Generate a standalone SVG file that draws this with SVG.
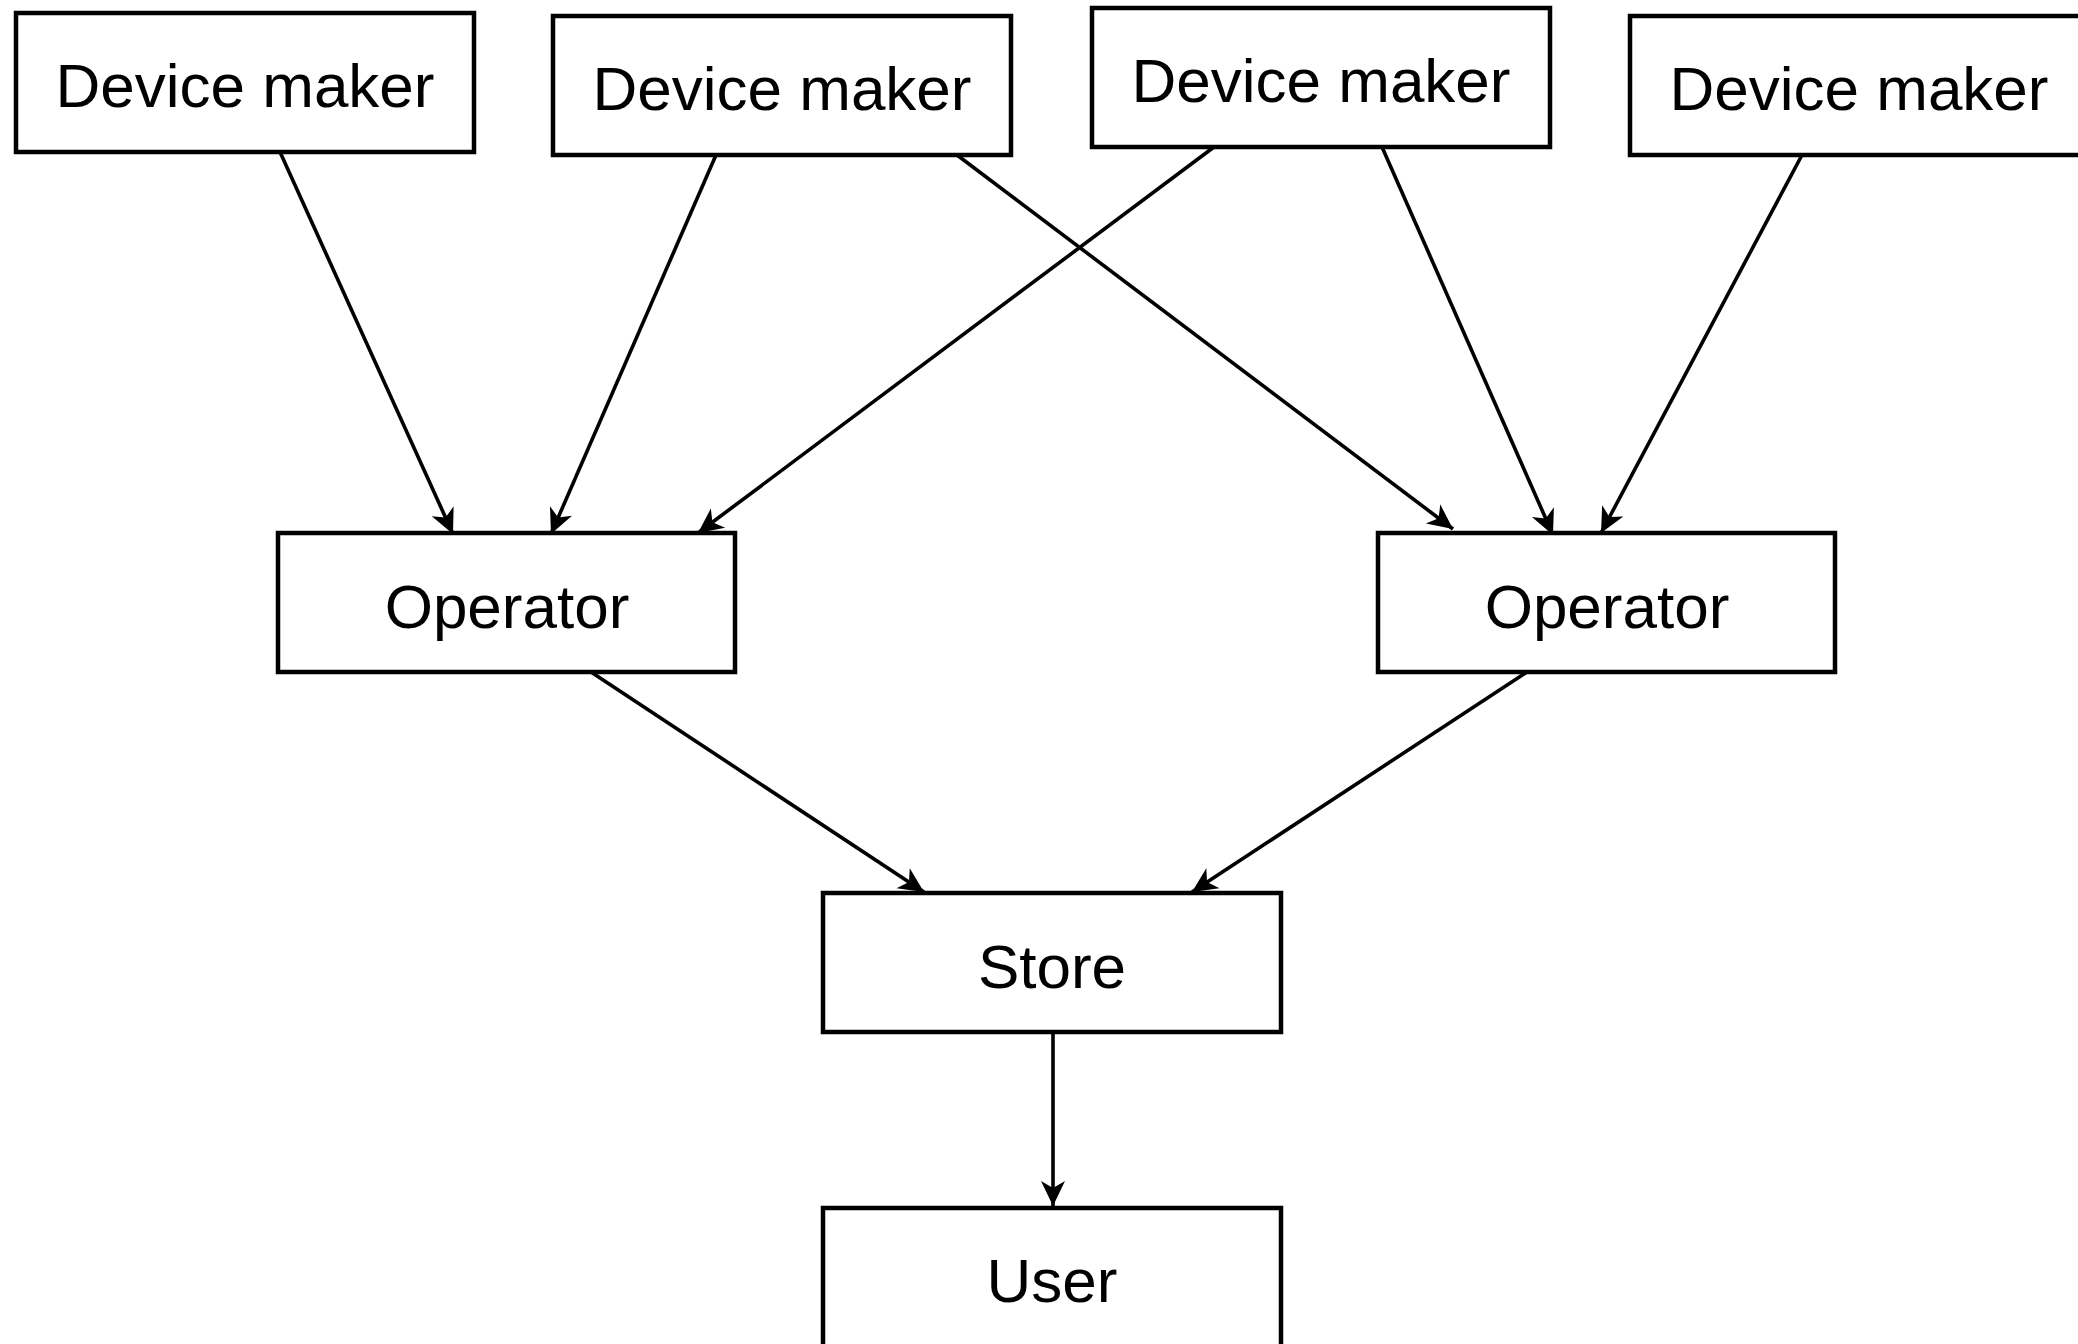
<svg xmlns="http://www.w3.org/2000/svg" width="2078" height="1344" viewBox="0 0 2078 1344">
<style>
.box{fill:#fff;stroke:#000;stroke-width:4.5}
.lbl{font-family:"Liberation Sans",Arial,sans-serif;font-size:62px;fill:#000;text-anchor:middle}
.edge{stroke:#000;stroke-width:3.6;fill:none;marker-end:url(#arr)}
</style>
<defs>
<marker id="arr" markerUnits="userSpaceOnUse" viewBox="-28 -14 30 28" refX="0" refY="0" markerWidth="30" markerHeight="28" orient="auto">
<path d="M0,0 L-25,-12 L-18,0 L-25,12 Z" fill="#000"/>
</marker>
</defs>
<rect width="2078" height="1344" fill="#fff"/>
<g id="connectors">
<line class="edge" x1="280" y1="152" x2="453" y2="534"/>
<line class="edge" x1="716" y1="155" x2="551" y2="534"/>
<line class="edge" x1="1214" y1="147" x2="698" y2="533"/>
<line class="edge" x1="957" y1="155" x2="1453" y2="529"/>
<line class="edge" x1="1382" y1="147" x2="1553" y2="535"/>
<line class="edge" x1="1802" y1="155" x2="1601" y2="533"/>
<line class="edge" x1="591" y1="672" x2="924" y2="892"/>
<line class="edge" x1="1527" y1="672" x2="1192" y2="892"/>
<line class="edge" x1="1053" y1="1032" x2="1053" y2="1206"/>
</g>
<g id="dm1"><rect class="box" x="16" y="13" width="458" height="139"/><text class="lbl" x="245" y="107">Device maker</text></g>
<g id="dm2"><rect class="box" x="553" y="16" width="458" height="139"/><text class="lbl" x="782" y="110">Device maker</text></g>
<g id="dm3"><rect class="box" x="1092" y="8" width="458" height="139"/><text class="lbl" x="1321" y="102">Device maker</text></g>
<g id="dm4"><rect class="box" x="1630" y="16" width="458" height="139"/><text class="lbl" x="1859" y="110">Device maker</text></g>
<g id="op1"><rect class="box" x="278" y="533" width="457" height="139"/><text class="lbl" x="507" y="628">Operator</text></g>
<g id="op2"><rect class="box" x="1378" y="533" width="457" height="139"/><text class="lbl" x="1607" y="628">Operator</text></g>
<g id="store"><rect class="box" x="823" y="893" width="458" height="139"/><text class="lbl" x="1052" y="988">Store</text></g>
<g id="user"><rect class="box" x="823" y="1208" width="458" height="139"/><text class="lbl" x="1052" y="1302">User</text></g>
</svg>
